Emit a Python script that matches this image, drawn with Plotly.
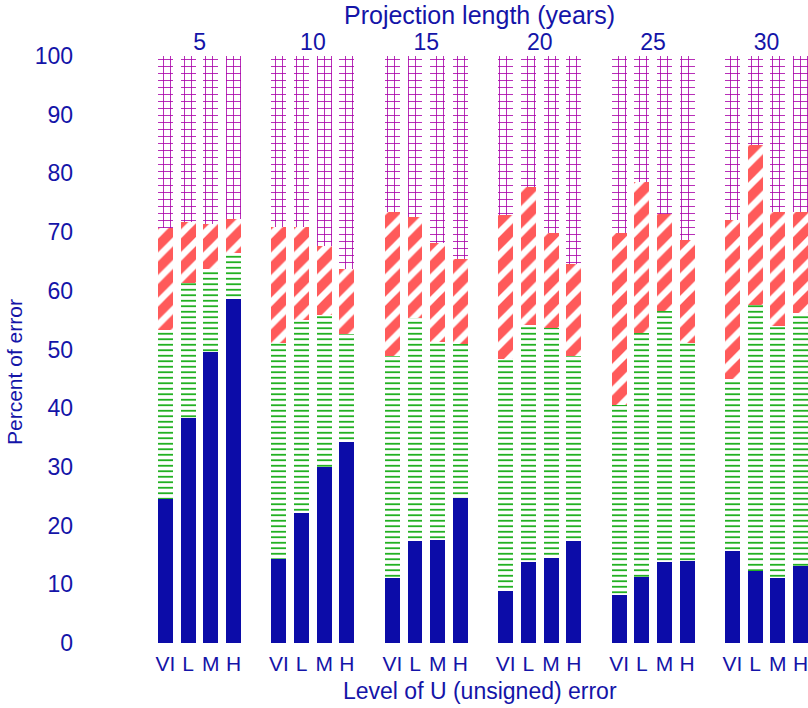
import plotly.graph_objects as go

projection_years = ["5", "10", "15", "20", "25", "30"]
error_levels = ["VI", "L", "M", "H"]

# segment heights (percent), listed per group in order VI, L, M, H
seg_blue = [24.5, 38.4, 49.5, 58.6,
            14.3, 22.1, 29.9, 34.3,
            11.1, 17.3, 17.5, 24.7,
            8.9, 13.8, 14.5, 17.4,
            8.1, 11.2, 13.8, 13.9,
            15.7, 12.3, 11.0, 13.2]
seg_green = [28.9, 22.9, 14.2, 7.9,
             36.8, 32.9, 26.0, 18.3,
             37.8, 38.0, 33.8, 26.2,
             39.5, 40.3, 39.2, 31.5,
             32.4, 41.6, 42.7, 37.2,
             29.2, 45.3, 43.0, 43.0]
seg_red = [17.3, 10.4, 7.7, 5.8,
           19.8, 15.8, 11.8, 11.1,
           24.5, 17.2, 16.8, 14.5,
           24.5, 23.5, 16.2, 15.6,
           29.4, 25.7, 16.5, 17.6,
           27.2, 27.2, 19.4, 17.2]
seg_magenta = [29.3, 28.3, 28.6, 27.7,
               29.1, 29.2, 32.3, 36.3,
               26.6, 27.5, 31.9, 34.6,
               27.1, 22.4, 30.1, 35.5,
               30.1, 21.5, 27.0, 31.3,
               27.9, 15.2, 26.6, 26.6]

y_ticks = [0, 10, 20, 30, 40, 50, 60, 70, 80, 90, 100]

TXT = "#1414a8"
FONT = "Liberation Sans"

slots_per_group = len(error_levels) + 1
xpos = [g * slots_per_group + b for g in range(len(projection_years)) for b in range(len(error_levels))]
tick_text = [error_levels[b] for g in range(len(projection_years)) for b in range(len(error_levels))]
group_centers = [g * slots_per_group + (len(error_levels) - 1) / 2 for g in range(len(projection_years))]

fig = go.Figure()
W = 0.66
fig.add_bar(x=xpos, y=seg_blue, width=W, name="Segment 1",
            marker=dict(color="#0c0ca8", line=dict(width=0)))
fig.add_bar(x=xpos, y=seg_green, width=W, name="Segment 2",
            marker=dict(color="white", line=dict(width=0),
                        pattern=dict(shape="-", fgcolor="#0aa80a", bgcolor="white",
                                     fgopacity=1, size=5.5, solidity=0.3)))
fig.add_bar(x=xpos, y=seg_red, width=W, name="Segment 3",
            marker=dict(color="white", line=dict(width=0),
                        pattern=dict(shape="/", fgcolor="#ff5a5a", bgcolor="white",
                                     fgopacity=1, size=16, solidity=0.6)))
fig.add_bar(x=xpos, y=seg_magenta, width=W, name="Segment 4",
            marker=dict(color="white", line=dict(width=0),
                        pattern=dict(shape="+", fgcolor="#a800a8", bgcolor="white",
                                     fgopacity=1, size=7, solidity=0.22)))

L, R = 76, 808
px0, step = 165.5, 22.68
xr = [(L - px0) / step, (R - px0) / step]

fig.update_layout(
    width=808, height=708, barmode="stack", showlegend=False,
    plot_bgcolor="white", paper_bgcolor="white",
    margin=dict(l=L, r=0, t=56, b=65),
    font=dict(family=FONT, color=TXT, size=21),
    xaxis=dict(range=xr, tickvals=xpos, ticktext=tick_text, showgrid=False,
               zeroline=False, showline=False, ticks="", ticklabelstandoff=6,
               ticklabeloverflow="allow", tickfont=dict(size=21, color=TXT)),
    xaxis2=dict(range=xr, overlaying="x", side="top", tickvals=group_centers,
                ticktext=projection_years, showgrid=False, zeroline=False,
                showline=False, ticks="", ticklabeloverflow="allow",
                tickfont=dict(size=23, color=TXT)),
    yaxis=dict(range=[0, 100], tickvals=y_ticks, showgrid=False, zeroline=False,
               showline=False, ticks="", ticklabelstandoff=2,
               tickfont=dict(size=23, color=TXT)),
)

pw = R - L
ph = 708 - 56 - 65
def xp(px):
    return (px - L) / pw
def yp(py):
    return (643 - py) / ph

fig.add_annotation(text="Projection length (years)", xref="paper", yref="paper",
                   x=xp(480), y=yp(15), xanchor="center", yanchor="middle",
                   showarrow=False, font=dict(size=25, color=TXT))
fig.add_annotation(text="Level of U (unsigned) error", xref="paper", yref="paper",
                   x=xp(480), y=yp(691), xanchor="center", yanchor="middle",
                   showarrow=False, font=dict(size=23, color=TXT))
fig.add_annotation(text="Percent of error", textangle=-90, xref="paper", yref="paper",
                   x=xp(14), y=yp(372), xanchor="center", yanchor="middle",
                   showarrow=False, font=dict(size=21, color=TXT))

# invisible trace to activate top axis
fig.add_scatter(x=group_centers, y=[None] * len(group_centers), xaxis="x2", showlegend=False,
                hoverinfo="skip")

fig.write_html("out.html")
